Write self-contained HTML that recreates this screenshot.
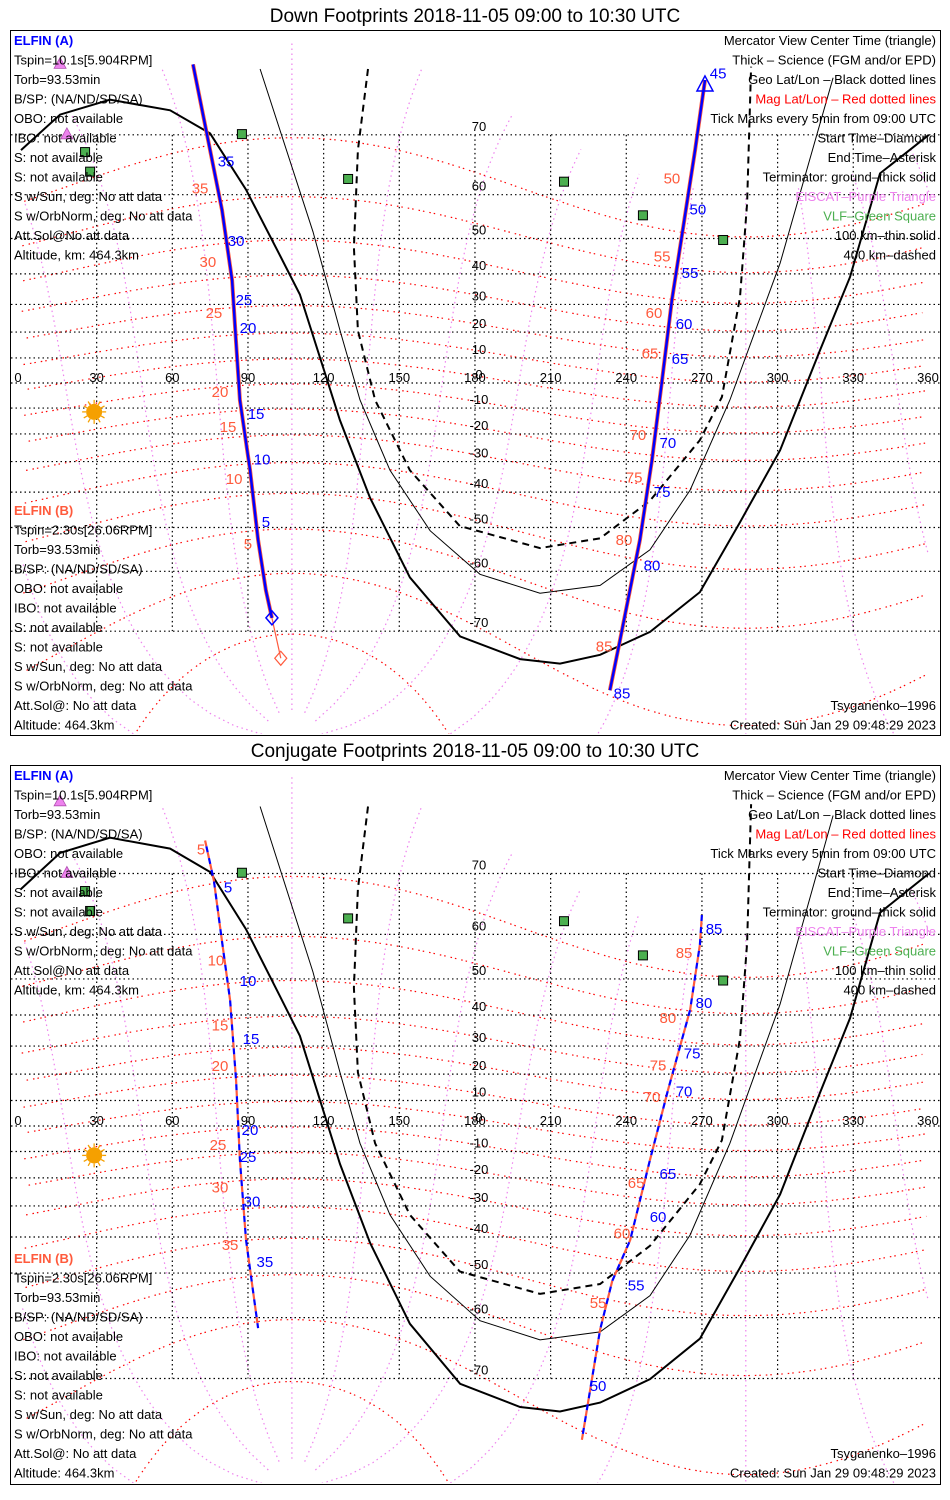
<!DOCTYPE html>
<html><head><meta charset="utf-8">
<style>
html,body{margin:0;padding:0;background:#fff;width:950px;height:1500px;overflow:hidden;}
svg{display:block;font-family:"Liberation Sans",sans-serif;}
</style></head>
<body>
<svg id="s" width="950" height="1500" viewBox="0 0 950 1500" xmlns="http://www.w3.org/2000/svg">
<rect x="0" y="0" width="950" height="1500" fill="#fff"/>
</svg>
<script>
// ---------- data ----------
const geoLatTicks = [-70,-60,-50,-40,-30,-20,-10,0,10,20,30,40,50,60,70];
const geoLonTicks = [0,30,60,90,120,150,180,210,240,270,300,330,360];
const magLatLines = [-80,-70,-60,-50,-40,-30,-20,-10,0,10,20,30,40,50,60];
const magLonLines = [0,30,60,90,120,150,180,210,240,270,300,330];
const terminatorGround = [[0,67.8],[15.5,72.6],[35.3,74.3],[59.1,73.1],[75,70.2],[89.2,61],[102.7,45.4],[110.6,33.4],[126.5,-14.8],[138.4,-41.7],[154.2,-61.2],[174.1,-70.7],[197.9,-73.5],[213.7,-74],[229.6,-73],[249.4,-70.1],[269.2,-63.9],[285.1,-48.6],[301,-26],[316.8,13],[328.7,39],[340.6,64],[360,70]];
const terminator100 = [[94.8,77.3],[115.8,51.7],[126.5,20.6],[134.4,-6.8],[146.3,-33],[162.2,-50.8],[182,-60.6],[205.8,-64.1],[229.6,-62.7],[249.4,-55.4],[265.3,-39.4],[281.1,-6.8],[301,43.2],[322,76.5]];
const terminator400 = [[137.6,77.3],[133.6,67.8],[132,47.7],[133.6,20.6],[140.4,-6.8],[154.2,-33],[174,-49.6],[205.8,-55],[229.6,-52.7],[249.4,-42.6],[269.2,-22.3],[277.9,-5.6],[285.1,32.5],[287.9,58.2],[289.1,74.2],[289.5,77.5]];
const vlfSites = [[87.6,70.1],[25.4,67.5],[27.4,64.3],[129.7,63],[215.3,62.5],[246.6,55.6],[278.4,49.6]];
const eiscatSites = [[15.5,77.7],[18.2,70]];
const sunPos = [29,-11.5];
// down footprints
const downA1 = [[68.2,77.7],[75,67.8],[79.7,56.8],[83.7,38],[85.2,17],[86.8,-6.8],[90.8,-32.8],[94,-53.1],[97.1,-63.6],[99.5,-68.1]];
const downB1tail = [[99.5,-68.1],[103,-73.4]];
const downA2 = [[233.5,-76.7],[237.5,-71.2],[245.4,-53.1],[250.2,-29.4],[254.2,1.2],[258.1,31.5],[263,54.5],[267.3,67.8],[271.2,76.3]];
const downTicksA = [[81.3,66,'35'],[85.3,49.3,'30'],[88.4,31.5,'25'],[90,21.5,'20'],[93.2,-12.4,'15'],[95.6,-29.2,'10'],[97.1,-48.5,'5'],[276.4,76.9,'45'],[268.4,56.9,'50'],[265.3,40.3,'55'],[262.9,23,'60'],[261.3,9.5,'65'],[256.5,-23.3,'70'],[254.2,-39.9,'75'],[250.2,-58.8,'80'],[238.3,-77,'85']];
const downTicksB = [[71,61.2,'35'],[74.1,43.6,'30'],[76.5,27,'25'],[78.9,-3.6,'20'],[82.1,-17.3,'15'],[84.5,-35.8,'10'],[90,-54,'5'],[258.1,63.1,'50'],[254.2,45.2,'55'],[251,27,'60'],[249.4,11.8,'65'],[244.6,-20.3,'70'],[243.1,-35.4,'75'],[239.1,-53.1,'80'],[231.2,-72,'85']];
// conjugate footprints
const conjA1 = [[73,74],[76.5,69],[79.7,58.6],[82.9,44.3],[85.3,17.6],[86.8,-13.2],[89.2,-40.8],[94,-62]];
const conjA2 = [[222.4,-76.8],[229.6,-62.3],[234.4,-52],[241.5,-41],[249.4,-13.2],[256.5,13.9],[265.3,41.5],[269.2,57.9],[270,63.6]];
const conjTicksA = [[82.1,68,'5'],[90,49.5,'10'],[91.2,32.4,'15'],[90.8,-1.6,'20'],[90,-12.1,'25'],[91.6,-28.5,'30'],[96.7,-47.1,'35'],[274.8,61,'85'],[270.8,43.5,'80'],[266.1,27.5,'75'],[262.9,13.5,'70'],[256.5,-18.6,'65'],[252.6,-33.7,'60'],[243.9,-53,'55'],[228.8,-71,'50']];
const conjTicksB = [[71.4,73,'5'],[77.3,54.5,'10'],[78.9,36.8,'15'],[78.9,22.9,'20'],[78.1,-7.5,'25'],[78.9,-23.5,'30'],[82.9,-42.4,'35'],[262.9,56.1,'85'],[256.5,39.1,'80'],[252.6,23.2,'75'],[250.2,11.3,'70'],[243.9,-21.9,'65'],[238.3,-38.9,'60'],[228.8,-57,'55']];
const leftA = ['Tspin=10.1s[5.904RPM]','Torb=93.53min','B/SP: (NA/ND/SD/SA)','OBO: not available','IBO: not available','S: not available','S: not available','S w/Sun, deg: No att data','S w/OrbNorm, deg: No att data','Att.Sol@No att data','Altitude, km: 464.3km'];
const leftB = ['Tspin=2.30s[26.06RPM]','Torb=93.53min','B/SP: (NA/ND/SD/SA)','OBO: not available','IBO: not available','S: not available','S: not available','S w/Sun, deg: No att data','S w/OrbNorm, deg: No att data','Att.Sol@: No att data','Altitude: 464.3km'];
const rightLegend = [['Mercator View Center Time (triangle)','#000'],['Thick – Science (FGM and/or EPD)','#000'],['Geo Lat/Lon – Black dotted lines','#000'],['Mag Lat/Lon – Red dotted lines','#ff0000'],['Tick Marks every 5min from 09:00 UTC','#000'],['Start Time–Diamond','#000'],['End Time–Asterisk','#000'],['Terminator: ground–thick solid','#000'],['EISCAT–Purple Triangle','#ee82ee'],['VLF–Green Square','#4caf50'],['100 km–thin solid','#000'],['400 km–dashed','#000']];

// ---------- drawing ----------
const NS='http://www.w3.org/2000/svg';
const svg=document.getElementById('s');
function mk(tag,attrs,parent){const e=document.createElementNS(NS,tag);for(const k in attrs)e.setAttribute(k,attrs[k]);(parent||svg).appendChild(e);return e;}
const D=Math.PI/180;
function magToGeo(mlat,mlon){
  const pl=80.4*D, pn=287.4*D, c=(90*D)-pl;
  let x=Math.cos(mlat*D)*Math.cos(mlon*D), y=Math.cos(mlat*D)*Math.sin(mlon*D), z=Math.sin(mlat*D);
  let x1=x*Math.cos(c)+z*Math.sin(c), z1=-x*Math.sin(c)+z*Math.cos(c), y1=y;
  let x2=x1*Math.cos(pn)-y1*Math.sin(pn), y2=x1*Math.sin(pn)+y1*Math.cos(pn);
  let lat=Math.asin(Math.max(-1,Math.min(1,z1)))/D, lon=Math.atan2(y2,x2)/D; if(lon<0)lon+=360;
  return [lon,lat];
}
function panel(p){
  const X=lon=>21+lon*2.522;
  const Y=lat=>{const l=Math.max(-85,Math.min(85,lat));return p.eq-p.s*Math.log(Math.tan(Math.PI/4+l*D/2));};
  const g=mk('g',{});  
  const t=mk('text',{x:475,y:p.top-8,'text-anchor':'middle','font-size':19},g); t.textContent=p.title;
   
  const cid='clip'+p.top;
  const cp=mk('clipPath',{id:cid},g); mk('rect',{x:11,y:p.top+1,width:929,height:p.bot-p.top-2},cp);
  const m=mk('g',{'clip-path':'url(#'+cid+')'},g);  
  function segs(pts){const out=[];let cur=[];pts.forEach((q,i)=>{if(i>0&&Math.abs(q[0]-pts[i-1][0])>180){out.push(cur);cur=[];}cur.push(q);});out.push(cur);return out;}
  function line(pts,attrs,name,parent){segs(pts).forEach(sg=>{if(sg.length<2)return;const e=mk('polyline',Object.assign({points:sg.map(q=>X(q[0]).toFixed(1)+','+Y(q[1]).toFixed(1)).join(' '),fill:'none'},attrs),parent||m);});}
  magLonLines.forEach(ml=>{const pts=[];for(let a=-88;a<=70;a+=2)pts.push(magToGeo(a,ml));line(pts,{stroke:'#ee82ee','stroke-width':1.2,'stroke-dasharray':'1.5 3.5'},'mag-lon-line');});
  magLatLines.forEach(ml=>{const pts=[];for(let a=0;a<=360;a+=3)pts.push(magToGeo(ml,a));pts.sort((u,v)=>u[0]-v[0]);line(pts,{stroke:'#ff0000','stroke-width':1.2,'stroke-dasharray':'1.5 5 1.5 3'},'mag-lat-line');});
  geoLatTicks.forEach(la=>{const e=mk('line',{x1:11,x2:940,y1:Y(la),y2:Y(la),stroke:'#000','stroke-width':1.2,'stroke-dasharray':'1.5 3'},m);
    const tx=mk('text',{x:X(180)+4,y:Y(la)-4,'text-anchor':'middle','font-size':13},m);tx.textContent=la;});
  geoLonTicks.forEach(lo=>{if(lo>0&&lo<360){const e=mk('line',{x1:X(lo),x2:X(lo),y1:Y(70),y2:Y(-70),stroke:'#000','stroke-width':1.2,'stroke-dasharray':'1.5 3'},m);}
    const tx=mk('text',{x:lo===0?18:(lo===360?928:X(lo)),y:Y(0)-1,'text-anchor':'middle','font-size':13},m);tx.textContent=lo;});
  line(terminatorGround,{stroke:'#000','stroke-width':2},'terminator-ground');
  line(terminator100,{stroke:'#000','stroke-width':1},'terminator-100km');
  line(terminator400,{stroke:'#000','stroke-width':2,'stroke-dasharray':'7 5'},'terminator-400km');
  vlfSites.forEach(v=>{const e=mk('rect',{x:X(v[0])-4.5,y:Y(v[1])-4.5,width:9,height:9,fill:'#4caf50',stroke:'#000','stroke-width':1},m);});
  eiscatSites.forEach(v=>{const x=X(v[0]),y=Y(v[1]);const e=mk('polygon',{points:`${x-6},${y+4} ${x+6},${y+4} ${x},${y-7}`,fill:'#ee82ee',stroke:'#b050b0','stroke-width':0.8},m);});
  const sx=X(sunPos[0]),sy=Y(sunPos[1]);
  const sun=mk('g',{},m);
  for(let k=0;k<12;k++){const a=k*30*D;mk('line',{x1:sx+Math.cos(a)*8,y1:sy+Math.sin(a)*8,x2:sx+Math.cos(a)*12,y2:sy+Math.sin(a)*12,stroke:'#f5a000','stroke-width':1.3},sun);}
  mk('circle',{cx:sx,cy:sy,r:8,fill:'#f5a000'},sun);
  p.tracks(line,X,Y,m);
  const lab=(arr,col,name)=>arr.forEach(q=>{const e=mk('text',{x:X(q[0]),y:Y(q[1])+5,'text-anchor':'middle','font-size':15,fill:col},m);e.textContent=q[2];});
  lab(p.ticksB,'#ff5a3c','elfin-b-tick-label');
  lab(p.ticksA,'#0000ff','elfin-a-tick-label');
  const fr=mk('rect',{x:10.5,y:p.top+0.5,width:930,height:p.bot-p.top,fill:'none',stroke:'#000','stroke-width':1},g);
  const txt=(x,y,s,col,anchor,name)=>{const e=mk('text',{x:x,y:y,'font-size':13,fill:col,'text-anchor':anchor},g);e.textContent=s;return e;};
  txt(14,p.top+15,'ELFIN (A)','#0000ff','start','elfin-a-header').setAttribute('font-weight','bold');
  leftA.forEach((s,i)=>txt(14,p.top+15+(i+1)*19.5,s,'#000','start','elfin-a-info'));
  txt(14,p.lowB,'ELFIN (B)','#ff5a3c','start','elfin-b-header').setAttribute('font-weight','bold');
  leftB.forEach((s,i)=>txt(14,p.lowB+(i+1)*19.5,s,'#000','start','elfin-b-info'));
  rightLegend.forEach((r,i)=>txt(936,p.top+15+i*19.5,r[0],r[1],'end','legend-entry'));
  txt(936,p.lowB+10*19.5,'Tsyganenko–1996','#000','end','model-label');
  txt(936,p.lowB+11*19.5,'Created: Sun Jan 29 09:48:29 2023','#000','end','created-label');
}
panel({name:'down-footprints-panel',title:'Down Footprints 2018-11-05 09:00 to 10:30 UTC',top:30,bot:735,eq:383,s:143,lowB:515,ticksA:downTicksA,ticksB:downTicksB,
 tracks:(line,X,Y,m)=>{
  line(downA1,{stroke:'#ff5a3c','stroke-width':4},'elfin-b-track');
  line(downA2,{stroke:'#ff5a3c','stroke-width':4},'elfin-b-track');
  line(downB1tail,{stroke:'#ff5a3c','stroke-width':1.2},'elfin-b-track-tail');
  line(downA1,{stroke:'#0000ff','stroke-width':2.5},'elfin-a-track');
  line(downA2,{stroke:'#0000ff','stroke-width':2.5},'elfin-a-track');
  const s1=downA1[downA1.length-1],x1=X(s1[0]),y1=Y(s1[1]);
  let e=mk('polygon',{points:`${x1},${y1-7} ${x1+6},${y1} ${x1},${y1+7} ${x1-6},${y1}`,fill:'none',stroke:'#0000ff','stroke-width':1.5},m);
  const s2=downB1tail[1],x2=X(s2[0]),y2=Y(s2[1]);
  e=mk('polygon',{points:`${x2},${y2-7} ${x2+6},${y2} ${x2},${y2+7} ${x2-6},${y2}`,fill:'none',stroke:'#ff5a3c','stroke-width':1.2},m);
  const c=downA2[downA2.length-1],x3=X(c[0]),y3=Y(c[1])+5;
  e=mk('polygon',{points:`${x3-8},${y3+6} ${x3+8},${y3+6} ${x3},${y3-9}`,fill:'none',stroke:'#0000ff','stroke-width':1.5},m);
 }});
panel({name:'conjugate-footprints-panel',title:'Conjugate Footprints 2018-11-05 09:00 to 10:30 UTC',top:765,bot:1484,eq:1126,s:145.5,lowB:1263,ticksA:conjTicksA,ticksB:conjTicksB,
 tracks:(line,X,Y,m)=>{
  [conjA1,conjA2].forEach(tr=>{
   line(tr,{stroke:'#ff5a3c','stroke-width':2.2,'stroke-dasharray':'6 6'},'elfin-b-track');
   line(tr,{stroke:'#0000ff','stroke-width':2.2,'stroke-dasharray':'6 6','stroke-dashoffset':6},'elfin-a-track');
  });
 }});
</script>
</body></html>
